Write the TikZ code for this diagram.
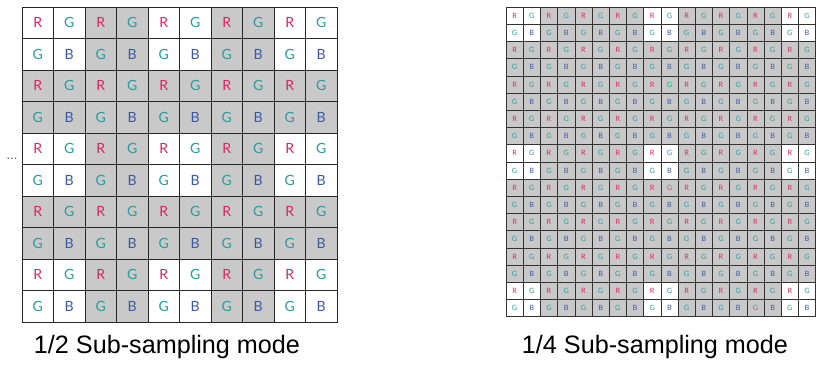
\documentclass[tikz,border=0pt]{standalone}
\usepackage{fontspec}
\setmainfont{Liberation Sans}
\newfontfamily\cellfont{Lato}
\definecolor{colR}{HTML}{DC2560}
\definecolor{colG}{HTML}{2A9C9E}
\definecolor{colB}{HTML}{3A58A4}
\definecolor{cellgray}{HTML}{C9C9C9}
\definecolor{dotgray}{HTML}{4A5470}
\newcommand{\bayerltr}[1]{\ifcase#1 \textcolor{colR}{R}\or\textcolor{colG}{G}\or\textcolor{colG}{G}\or\textcolor{colB}{B}\fi}
\tikzset{
  cellL/.style={draw=black!85,line width=0.7pt,inner sep=0pt,outer sep=0pt,
    minimum size=0.945cm,font=\cellfont\fontsize{12}{12}\selectfont},
  cellS/.style={draw=black!80,line width=0.45pt,inner sep=0pt,outer sep=0pt,
    minimum size=0.516cm,font=\cellfont\fontsize{6.2}{6.2}\selectfont},
  lbl/.style={anchor=base,inner sep=0pt,font=\fontsize{21.5}{24}\selectfont}
}
\begin{document}
\begin{tikzpicture}
  [x=0.03cm,y=-0.03cm]
\useasboundingbox (0,0) rectangle (819,365);
% 1/2 mode: 10x10
\foreach \r in {0,...,9}
  \foreach \c in {0,...,9} {
    \pgfmathtruncatemacro\shade{(mod(\r,4)<2 && mod(\c,4)<2) ? 0 : 1}
    \pgfmathtruncatemacro\ltr{2*mod(\r,2)+mod(\c,2)}
    \def\cellfill{white}
    \ifnum\shade=1 \def\cellfill{cellgray}\fi
    \node (L\r-\c)[cellL,fill=\cellfill] at (37.75+31.5*\c,22.75+31.5*\r) {\bayerltr{\ltr}};
  }
% 1/4 mode: 18x18
\foreach \r in {0,...,17}
  \foreach \c in {0,...,17} {
    \pgfmathtruncatemacro\shade{(mod(\r,8)<2 && mod(\c,8)<2) ? 0 : 1}
    \pgfmathtruncatemacro\ltr{2*mod(\r,2)+mod(\c,2)}
    \def\cellfill{white}
    \ifnum\shade=1 \def\cellfill{cellgray}\fi
    \node (S\r-\c)[cellS,fill=\cellfill] at (514.6+17.2*\c,15.6+17.2*\r) {\bayerltr{\ltr}};
  }
\node (dotsL)[text=dotgray,font=\fontsize{11}{11}\selectfont] at (12,159) {...};
\node (dotsS)[text=black!40,font=\fontsize{3.5}{4}\selectfont] at (499,177) {..};
\node (capL)[lbl] at (167,353) {1/2 Sub-sampling mode};
\node (capS)[lbl] at (655,353) {1/4 Sub-sampling mode};
\end{tikzpicture}
\end{document}
